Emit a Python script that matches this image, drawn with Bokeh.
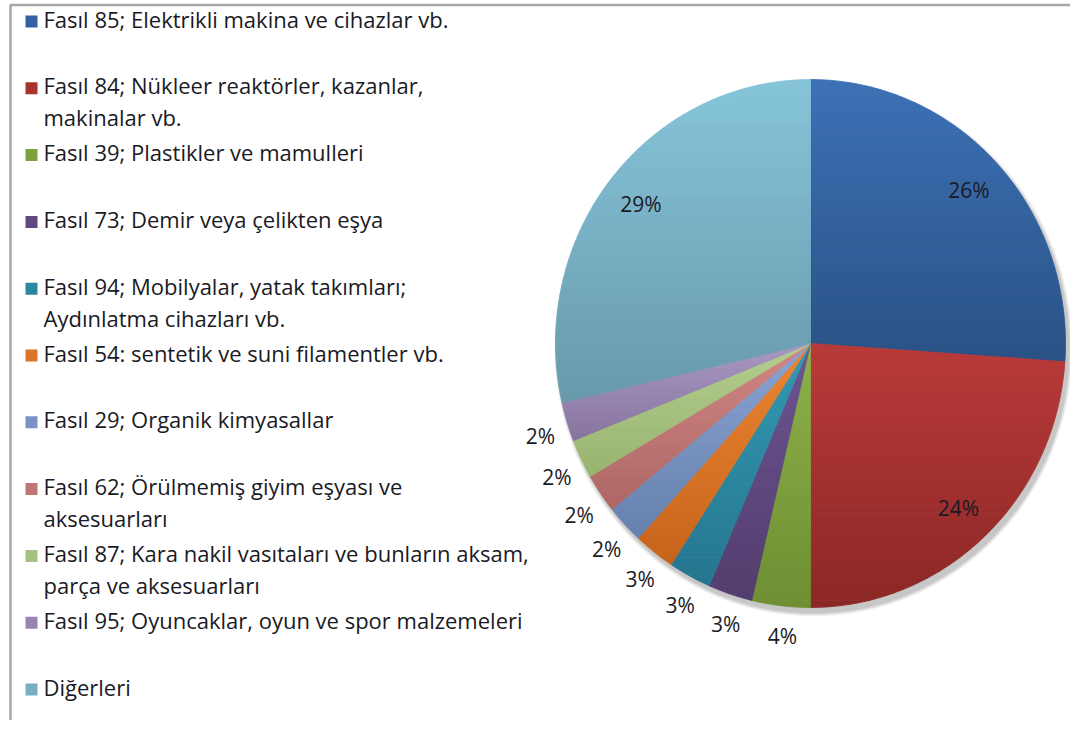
import numpy as np
from bokeh.plotting import figure
from bokeh.models import Range1d
from bokeh.core.properties import value
from bokeh.embed import file_html
from bokeh.resources import INLINE

# ---------------- data ----------------
categories = [
    "Fasıl 85; Elektrikli makina ve cihazlar vb.",
    "Fasıl 84; Nükleer reaktörler, kazanlar,\nmakinalar vb.",
    "Fasıl 39; Plastikler ve mamulleri",
    "Fasıl 73; Demir veya çelikten eşya",
    "Fasıl 94; Mobilyalar, yatak takımları;\nAydınlatma cihazları vb.",
    "Fasıl 54: sentetik ve suni filamentler vb.",
    "Fasıl 29; Organik kimyasallar",
    "Fasıl 62; Örülmemiş giyim eşyası ve\naksesuarları",
    "Fasıl 87; Kara nakil vasıtaları ve bunların aksam,\nparça ve aksesuarları",
    " Fasıl 95; Oyuncaklar, oyun ve spor malzemeleri",
    "Diğerleri",
]
shares = [26.1, 23.9, 3.7, 2.8, 2.7, 2.6, 2.4, 2.4, 2.4, 2.4, 28.6]

# ---------------- styles ----------------
top_colors = ["#3C71B5", "#B93A38", "#8DB149", "#6C5492", "#3499B4", "#EC8634",
              "#8AA4D4", "#D28785", "#B5CE90", "#A898C3", "#86C5DA"]
bot_colors = ["#2A5286", "#8B2726", "#6E8F32", "#533D6D", "#25768E", "#C6641B",
              "#6680AE", "#AE6664", "#97B46E", "#87759F", "#6899AB"]
mid_colors = ["#3462A0", "#A83331", "#7FA03E", "#604880", "#2C88A2", "#DA7527",
              "#7A93C2", "#C07674", "#A6C280", "#9886B1", "#77AFC2"]
FONT = "Open Sans"
TXT = "#1A1A24"
LEG_SIZE = 22

W, H = 1070, 720
CX, CY, RX, RY = 810.0, 343.0, 255.0, 264.0

p = figure(width=W, height=H, output_backend="svg", toolbar_location=None,
           x_range=Range1d(0, W), y_range=Range1d(H, 0),
           min_border=0)
p.axis.visible = False
p.grid.visible = False
p.outline_line_color = None
p.background_fill_color = "white"
p.border_fill_color = "white"

# frame of chart area
p.line(x=[10, 10, 1090], y=[740, 4.5, 4.5], line_color="#A6A6A6", line_width=2.5)


def hex2rgb(h):
    h = h.lstrip("#")
    return np.array([int(h[i:i + 2], 16) for i in (0, 2, 4)], dtype=float)


def rgb2hex(c):
    c = np.clip(np.round(c), 0, 255).astype(int)
    return "#%02x%02x%02x" % tuple(c)


def clip_half(xs, ys, yc, keep_below):
    out_x, out_y = [], []
    n = len(xs)
    for i in range(n):
        x1, y1 = xs[i], ys[i]
        x2, y2 = xs[(i + 1) % n], ys[(i + 1) % n]
        in1 = (y1 >= yc) if keep_below else (y1 <= yc)
        in2 = (y2 >= yc) if keep_below else (y2 <= yc)
        if in1:
            out_x.append(x1); out_y.append(y1)
        if in1 != in2:
            t = (yc - y1) / (y2 - y1)
            out_x.append(x1 + t * (x2 - x1)); out_y.append(yc)
    return out_x, out_y


# soft shadow
for k, a in enumerate([0.05, 0.05, 0.06, 0.07]):
    grow = 8 - 2 * k
    p.ellipse(x=CX + 3, y=CY + 5, width=2 * RX + grow, height=2 * RY + grow,
              fill_color="black", fill_alpha=a, line_color=None)

total = float(sum(shares))
fr = np.array(shares) / total
cum = np.concatenate([[0], np.cumsum(fr)])
starts = cum[:-1] * 2 * np.pi
ends = cum[1:] * 2 * np.pi

band_xs, band_ys, band_cols = [], [], []
NB = 36
for i in range(len(shares)):
    t = np.linspace(starts[i], ends[i], max(8, int(fr[i] * 400)))
    xs = [CX] + list(CX + RX * np.sin(t))
    ys = [CY] + list(CY - RY * np.cos(t))
    y0, y1 = min(ys), max(ys)
    c0, c1 = hex2rgb(top_colors[i]), hex2rgb(bot_colors[i])
    edges = np.linspace(y0, y1, NB + 1)
    for b in range(NB):
        bx, by = clip_half(xs, ys, edges[b], True)
        if len(bx) < 3:
            continue
        bx, by = clip_half(bx, by, edges[b + 1], False)
        if len(bx) < 3:
            continue
        f = (b + 0.5) / NB
        band_xs.append(bx); band_ys.append(by)
        band_cols.append(rgb2hex(c0 + (c1 - c0) * f))

p.patches(xs=band_xs, ys=band_ys, fill_color=band_cols, line_color=band_cols,
          line_width=0.8)

# percent labels
mids = (starts + ends) / 2
pct = [f"{int(round(v))}%" for v in shares]
in_x, in_y, in_t, out_x, out_y, out_t = [], [], [], [], [], []
for i, m in enumerate(mids):
    if fr[i] > 0.1:
        in_x.append(CX + 0.85 * RX * np.sin(m)); in_y.append(CY - 0.85 * RY * np.cos(m))
        in_t.append(pct[i])
    else:
        mm = m - np.deg2rad(1.0)
        out_x.append(CX + 1.115 * RX * np.sin(mm)); out_y.append(CY - 1.115 * RY * np.cos(mm))
        out_t.append(pct[i])
p.text(x=in_x, y=in_y, text=in_t, text_align="center", text_baseline="middle",
       text_font=value(FONT), text_font_size="21px", text_color=TXT)
p.text(x=out_x, y=out_y, text=out_t, text_align="center", text_baseline="middle",
       text_font=value(FONT), text_font_size="21px", text_color=TXT)

# legend
n = len(categories)
ly = [20 + i * 66.8 for i in range(n)]
p.rect(x=[31] * n, y=[v + 1 for v in ly], width=12, height=12, fill_color=mid_colors,
       line_color=None)
p.text(x=[43] * n, y=[v - 17 for v in ly], text=categories, text_align="left",
       text_baseline="top", text_font=value(FONT), text_font_size=f"{LEG_SIZE}px",
       text_color=TXT, text_line_height=1.07)

open("out.html", "w").write(file_html(p, INLINE))
